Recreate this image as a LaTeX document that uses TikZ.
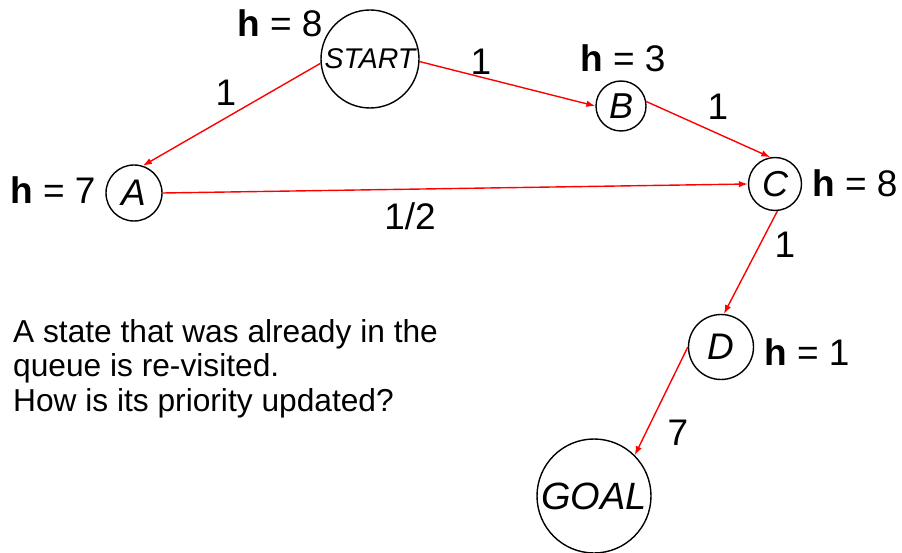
\documentclass[tikz,border=0pt]{standalone}
\usepackage{fontspec}
\setmainfont{Liberation Sans}
\usetikzlibrary{arrows.meta}

\begin{document}
\begin{tikzpicture}[x=1pt, y=-1pt,
  state/.style={draw, circle, line width=1.4pt, inner sep=0pt, font=\itshape},
  edge/.style={draw=red, line width=1.4pt, -{Latex[length=9pt,width=6.5pt]}},
  hlab/.style={anchor=base west, inner sep=0pt, font=\fontsize{37}{37}\selectfont},
  cost/.style={anchor=base, inner sep=0pt, font=\fontsize{37}{37}\selectfont}]
\useasboundingbox (0,0) rectangle (902,553);

% states of the search graph
\node[state, minimum size=98pt, font=\itshape\fontsize{28.5}{28.5}\selectfont] (start) at (370,59) {START};
\node[state, minimum size=50pt, font=\itshape\fontsize{36}{36}\selectfont] (b) at (621,106) {B};
\node[state, minimum size=56pt, font=\itshape\fontsize{37}{37}\selectfont] (a) at (134,193) {A};
\node[state, minimum size=53pt, font=\itshape\fontsize{36}{36}\selectfont] (c) at (775,184) {C};
\node[state, minimum size=65pt, font=\itshape\fontsize{37}{37}\selectfont] (d) at (721,347) {D};
\node[state, minimum size=114pt, font=\itshape\fontsize{38}{38}\selectfont] (goal) at (594,496) {GOAL};

% heuristic values
\node[hlab] (hstart) at (237,37) {\textbf{h} = 8};
\node[hlab] (hb) at (580,72) {\textbf{h} = 3};
\node[hlab] (ha) at (10,204) {\textbf{h} = 7};
\node[hlab] (hc) at (812,197) {\textbf{h} = 8};
\node[hlab] (hd) at (764,365) {\textbf{h} = 1};

% edges with their costs
\draw[edge] (start.185) -- (a.72);
\node[cost] (csa) at (226,106) {1};
\draw[edge] (start.-3) -- (b.180);
\node[cost] (csb) at (481,75) {1};
\draw[edge] (b.10) -- (c.100);
\node[cost] (cbc) at (718,120) {1};
\draw[edge] (a.east) -- (c.west);
\node[cost] (cac) at (410,230) {1/2};
\draw[edge] (c.275) -- (d.85);
\node[cost] (ccd) at (785,258) {1};
\draw[edge] (d.180) -- (goal.45);
\node[cost] (cdg) at (678,445) {7};

% question
\node[anchor=north west, inner sep=0pt, align=left,
      font=\fontsize{31.7}{34.5}\selectfont] (note) at (13,319)
  {A state that was already in the\\queue is re-visited.\\How is its priority updated?};
\end{tikzpicture}
\end{document}
